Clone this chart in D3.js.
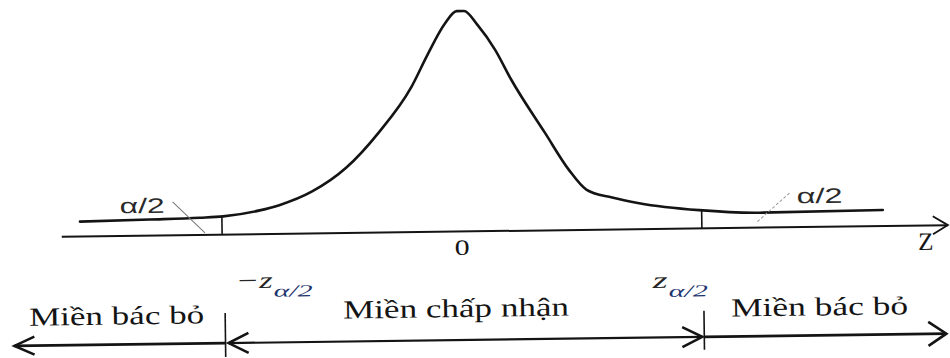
<!DOCTYPE html>
<html>
<head>
<meta charset="utf-8">
<script src="https://cdn.jsdelivr.net/npm/d3@7"></script>
<style>
  html, body { margin: 0; padding: 0; background: #fff; }
  svg { display: block; }
</style>
</head>
<body>
<svg id="chart" width="950" height="358"></svg>
<script>
// Test statistic values (z) and curve heights (density) along the sampling distribution
const zValues = [-3.12, -2.55, -2.14, -1.95, -1.65, -1.49, -1.22, -0.94, -0.67, -0.40, -0.26, -0.12, -0.02,
                 0.04, 0.15, 0.29, 0.42, 0.69, 0.88, 1.02, 1.23, 1.45, 1.94, 2.43, 3.44];
const density = [0.027, 0.029, 0.031, 0.033, 0.043, 0.052, 0.076, 0.118, 0.181, 0.262, 0.322, 0.376, 0.399,
                 0.399, 0.373, 0.328, 0.273, 0.176, 0.109, 0.073, 0.058, 0.047, 0.033, 0.027, 0.029];

// Critical values -z(α/2) and z(α/2)
const criticalValues = [-1.96, 1.96];
// Extent of the horizontal z axis
const axisExtent = [-3.27, 3.97];
// Origin tick label
const originLabel = "0";
const axisName = "Z";
const tailLabel = "α/2";
const regionLabels = ["Miền bác bỏ", "Miền chấp nhận", "Miền bác bỏ"];

const svg = d3.select("#chart");
const baseY = 231.5;
const pxPerZ = 122.4;
const pxPerDensity = 552.5;

const x = d3.scaleLinear().domain([-4, 4]).range([462 - 4 * pxPerZ, 462 + 4 * pxPerZ]);
const y = d3.scaleLinear().domain([0, 0.4]).range([baseY, baseY - 0.4 * pxPerDensity]);

// whole figure sits slightly tilted
const g = svg.append("g").attr("transform", `rotate(-0.75, 462, ${baseY})`);

const ink = "#141414";
const serif = "'Liberation Serif', 'Times New Roman', serif";
const sans = "'Liberation Sans', Arial, sans-serif";

// horizontal z axis with arrow
const ax0 = x(axisExtent[0]), ax1 = x(axisExtent[1]);
g.append("line")
  .attr("x1", ax0).attr("x2", ax1).attr("y1", y(0)).attr("y2", y(0))
  .attr("stroke", ink).attr("stroke-width", 2);
g.append("path")
  .attr("d", `M${ax1 - 15},${y(0) - 9} L${ax1},${y(0)} L${ax1 - 15},${y(0) + 9}`)
  .attr("fill", "none").attr("stroke", ink).attr("stroke-width", 1.8);

// density curve
const points = zValues.map((z, i) => [z, density[i]]);
const line = d3.line()
  .x(d => x(d[0])).y(d => y(d[1]))
  .curve(d3.curveMonotoneX);
g.append("path")
  .attr("d", line(points))
  .attr("fill", "none").attr("stroke", ink).attr("stroke-width", 2.6)
  .attr("stroke-linejoin", "round").attr("stroke-linecap", "round");

// height of the curve at a given z (linear between the read points)
function curveAt(z) {
  const i = d3.bisectLeft(zValues, z);
  const i0 = Math.max(0, i - 1), i1 = Math.min(zValues.length - 1, i);
  if (i0 === i1) return density[i0];
  const t = (z - zValues[i0]) / (zValues[i1] - zValues[i0]);
  return density[i0] + t * (density[i1] - density[i0]);
}

// vertical markers at the critical values
g.selectAll("line.crit")
  .data(criticalValues)
  .join("line")
  .attr("class", "crit")
  .attr("x1", d => x(d)).attr("x2", d => x(d))
  .attr("y1", d => y(curveAt(d))).attr("y2", y(0))
  .attr("stroke", ink).attr("stroke-width", 1.6);

// tail area labels with leader lines
g.append("text")
  .attr("x", 120).attr("y", 208.8)
  .attr("font-family", sans).attr("font-size", 21).attr("fill", "#2a2a2a")
  .attr("textLength", 45).attr("lengthAdjust", "spacingAndGlyphs")
  .text(tailLabel);
g.append("line")
  .attr("x1", 173).attr("y1", 198.2).attr("x2", 205).attr("y2", 229.6)
  .attr("stroke", "#777").attr("stroke-width", 1);

g.append("text")
  .attr("x", 797).attr("y", 207.7)
  .attr("font-family", sans).attr("font-size", 21).attr("fill", "#2a2a2a")
  .attr("textLength", 46).attr("lengthAdjust", "spacingAndGlyphs")
  .text(tailLabel);
g.append("line")
  .attr("x1", 790).attr("y1", 197.3).attr("x2", 757).attr("y2", 225.9)
  .attr("stroke", "#999").attr("stroke-width", 1).attr("stroke-dasharray", "3,2");

// origin and axis name
g.append("text")
  .attr("x", x(0)).attr("y", 255).attr("text-anchor", "middle")
  .attr("font-family", serif).attr("font-size", 22).attr("fill", ink)
  .attr("textLength", 15).attr("lengthAdjust", "spacingAndGlyphs")
  .text(originLabel);
g.append("text")
  .attr("x", 918).attr("y", 256)
  .attr("font-family", serif).attr("font-size", 25).attr("fill", ink)
  .text(axisName);

// critical value labels
function critLabel(xMain, wMain, mainText, yMain, xSub, wSub, ySub) {
  g.append("text")
    .attr("x", xMain).attr("y", yMain)
    .attr("font-family", serif).attr("font-style", "italic").attr("font-size", 23).attr("fill", "#262626")
    .attr("textLength", wMain).attr("lengthAdjust", "spacingAndGlyphs")
    .text(mainText);
  g.append("text")
    .attr("x", xSub).attr("y", ySub)
    .attr("font-family", serif).attr("font-style", "italic").attr("font-size", 17).attr("fill", "#1e3570")
    .attr("textLength", wSub).attr("lengthAdjust", "spacingAndGlyphs")
    .text("α/2");
}
critLabel(235, 37, "−z", 285.3, 273, 39, 294.3);
critLabel(652, 15, "z", 290.6, 668, 39, 299.6);

// region arrows along the bottom
const arrowY = 340;
const xL = x(criticalValues[0]) + 2, xR = x(criticalValues[1]) + 1;
const bottom = g.append("g").attr("stroke", ink).attr("fill", "none");
bottom.append("line").attr("x1", 13).attr("x2", xL).attr("y1", arrowY).attr("y2", arrowY).attr("stroke-width", 2.8);
bottom.append("line").attr("x1", xL + 3).attr("x2", xR - 2).attr("y1", arrowY).attr("y2", arrowY).attr("stroke-width", 2.2);
bottom.append("line").attr("x1", xR).attr("x2", 945).attr("y1", arrowY).attr("y2", arrowY).attr("stroke-width", 2.8);

function head(tipX, dir, len, half) {
  bottom.append("path")
    .attr("d", `M${tipX + dir * len},${arrowY - half} L${tipX},${arrowY} L${tipX + dir * len},${arrowY + half}`)
    .attr("stroke-width", 2.6).attr("stroke-linejoin", "miter");
}
head(13, 1, 20, 9);
head(xL + 3, 1, 20, 10);
head(xR - 2, -1, 20, 10);
head(945, -1, 18, 12);

// region boundary ticks
bottom.append("line").attr("x1", xL).attr("x2", xL).attr("y1", 310).attr("y2", 354).attr("stroke-width", 1.6);
bottom.append("line").attr("x1", xR).attr("x2", xR).attr("y1", 314).attr("y2", 353).attr("stroke-width", 1.6);

// region names
const regionPos = [
  { x: 28, y: 320, w: 175 },
  { x: 342, y: 317, w: 226 },
  { x: 730, y: 320, w: 177 }
];
g.selectAll("text.region")
  .data(regionLabels)
  .join("text")
  .attr("class", "region")
  .attr("x", (d, i) => regionPos[i].x)
  .attr("y", (d, i) => regionPos[i].y)
  .attr("textLength", (d, i) => regionPos[i].w)
  .attr("lengthAdjust", "spacingAndGlyphs")
  .attr("font-family", serif).attr("font-size", 26).attr("fill", ink)
  .text(d => d);
</script>
</body>
</html>
